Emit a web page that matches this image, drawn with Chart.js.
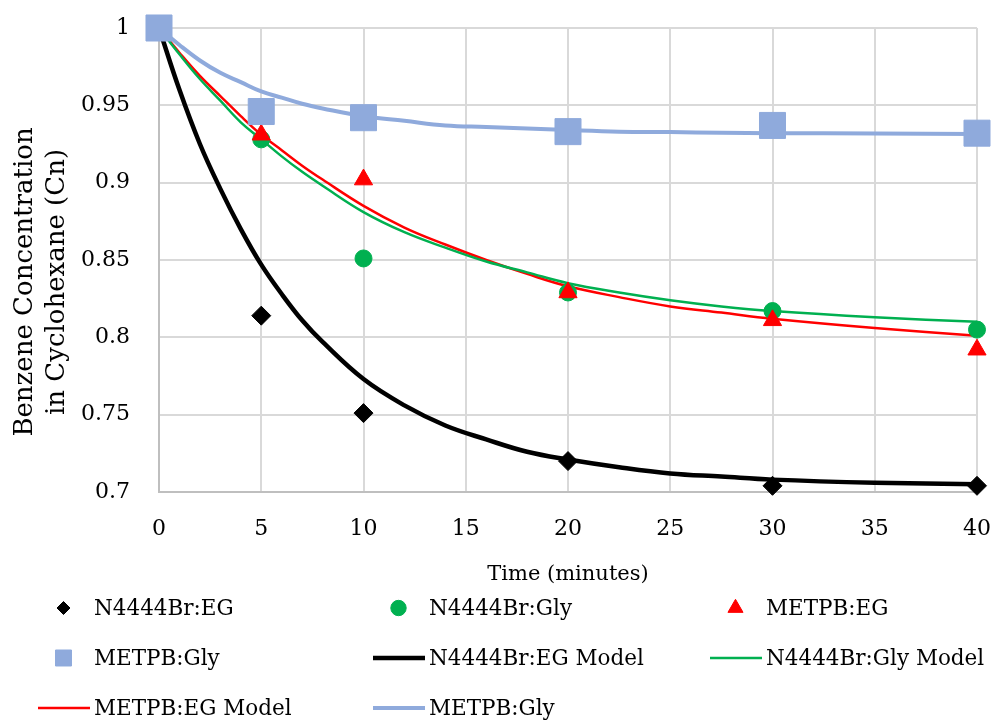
<!DOCTYPE html>
<html>
<head>
<meta charset="utf-8">
<script src="https://cdn.jsdelivr.net/npm/chart.js"></script>
<style>
  html, body { margin: 0; padding: 0; background: #fff; }
  #wrap { width: 992px; height: 720px; position: relative; }
</style>
</head>
<body>
<div id="wrap"><canvas id="benzene-chart"></canvas></div>
<script>
// measured points (minutes vs Cn)
const sampleTimes = [0, 5, 10, 20, 30, 40];
const n4444EG  = [1, 0.814, 0.751, 0.720, 0.704, 0.704];
const n4444Gly = [1, 0.928, 0.851, 0.829, 0.817, 0.805];
const metpbEG  = [1, 0.931, 0.902, 0.829, 0.811, 0.792];
const metpbGly = [1, 0.946, 0.942, 0.933, 0.937, 0.932];

// model curves
const modelTimes = [0, 1, 2, 3, 4, 5, 6, 7, 8, 10, 12, 14, 16, 18, 20, 22.5, 25, 27.5, 30, 35, 40];
const n4444EGModel  = [1, 0.960, 0.925, 0.896, 0.870, 0.847, 0.828, 0.811, 0.797, 0.773, 0.756, 0.743, 0.734, 0.726, 0.721, 0.716, 0.712, 0.710, 0.708, 0.706, 0.705];
const n4444GlyModel = [1, 0.983, 0.967, 0.953, 0.939, 0.928, 0.917, 0.907, 0.898, 0.881, 0.868, 0.858, 0.849, 0.842, 0.835, 0.829, 0.824, 0.820, 0.817, 0.813, 0.810];
const metpbEGModel  = [1, 0.984, 0.969, 0.956, 0.943, 0.931, 0.921, 0.911, 0.902, 0.885, 0.871, 0.860, 0.850, 0.841, 0.833, 0.826, 0.820, 0.816, 0.812, 0.806, 0.801];
const metpbGlyModel = [1, 0.989, 0.979, 0.971, 0.965, 0.959, 0.955, 0.951, 0.948, 0.943, 0.940, 0.937, 0.936, 0.935, 0.934, 0.933, 0.9327, 0.9323, 0.932, 0.9318, 0.9315];

const xTicks = [0, 5, 10, 15, 20, 25, 30, 35, 40];
const yTitle = ["Benzene Concentration", "in Cyclohexane (Cn)"];
const xTitle = "Time (minutes)";

const SERIF = "'DejaVu Serif', 'Liberation Serif', serif";

function pts(xs, ys) {
    return xs.map((x, i) => ({ x: x, y: ys[i] }));
}

function markerSet(label, ys, style, color, radius, order, legendRadius) {
    return {
        label: label,
        data: pts(sampleTimes, ys),
        showLine: false,
        pointStyle: style,
        pointRadius: radius,
        pointHoverRadius: radius,
        backgroundColor: color,
        borderColor: color,
        pointBorderWidth: 1,
        order: order,
        clip: false,
        legendRadius: legendRadius
    };
}

function modelSet(label, ys, color, width) {
    return {
        label: label,
        data: pts(modelTimes, ys),
        showLine: true,
        pointRadius: 0,
        pointHoverRadius: 0,
        borderColor: color,
        backgroundColor: color,
        borderWidth: width,
        tension: 0.4,
        borderJoinStyle: "round",
        order: 10,
        clip: false
    };
}

const datasets = [
    markerSet("N4444Br:EG", n4444EG, "rectRot", "#000000", 9.5, 4, 6.5),
    markerSet("N4444Br:Gly", n4444Gly, "circle", "#00B050", 8.5, 3, 7.7),
    markerSet("METPB:EG", metpbEG, "triangle", "#FF0000", 10.5, 2, 8.7),
    markerSet("METPB:Gly", metpbGly, "rect", "#8FAADC", 18.4, 1, 11.3),
    modelSet("N4444Br:EG Model", n4444EGModel, "#000000", 4.5),
    modelSet("N4444Br:Gly Model", n4444GlyModel, "#00B050", 2.5),
    modelSet("METPB:EG Model", metpbEGModel, "#FF0000", 2.5),
    modelSet("METPB:Gly", metpbGlyModel, "#8FAADC", 4)
];

// legend grid + rotated y title drawn on the canvas
const legendCols = [94, 429, 766];
const legendRows = [608, 658, 708];

const extrasPlugin = {
    id: "extras",
    afterDraw(chart) {
        const ctx = chart.ctx;
        ctx.save();
        // y axis title (two lines)
        ctx.fillStyle = "#000";
        ctx.font = "26px " + SERIF;
        ctx.textAlign = "center";
        ctx.textBaseline = "middle";
        ctx.translate(0, 282);
        ctx.rotate(-Math.PI / 2);
        ctx.fillText(yTitle[0], 0, 25);
        ctx.fillText(yTitle[1], 0, 57);
        ctx.restore();

        ctx.save();
        ctx.font = "21.5px " + SERIF;
        ctx.textBaseline = "middle";
        ctx.textAlign = "left";
        chart.data.datasets.forEach((ds, i) => {
            const tx = legendCols[i % 3];
            const ty = legendRows[Math.floor(i / 3)];
            if (ds.showLine) {
                ctx.strokeStyle = ds.borderColor;
                ctx.lineWidth = ds.borderWidth;
                ctx.beginPath();
                ctx.moveTo(tx - 56, ty);
                ctx.lineTo(tx - 4, ty);
                ctx.stroke();
            } else {
                ctx.fillStyle = ds.backgroundColor;
                ctx.strokeStyle = ds.borderColor;
                Chart.helpers.drawPoint(ctx, {
                    pointStyle: ds.pointStyle,
                    radius: ds.legendRadius,
                    borderWidth: 1,
                    rotation: 0
                }, tx - 30.5, ty);
            }
            ctx.fillStyle = "#000";
            ctx.fillText(ds.label, tx, ty + 1);
        });
        ctx.restore();
    }
};

new Chart("benzene-chart", {
    type: "scatter",
    data: { datasets: datasets },
    options: {
        responsive: true,
        maintainAspectRatio: false,
        animation: false,
        layout: { autoPadding: false, padding: { left: 0, right: 15, top: 28, bottom: 128 } },
        plugins: {
            legend: { display: false },
            tooltip: { enabled: false }
        },
        scales: {
            x: {
                type: "linear",
                min: 0,
                max: 40,
                afterBuildTicks: (scale) => { scale.ticks = xTicks.map(v => ({ value: v })); },
                afterFit: (scale) => {
                    scale.height = 100;
                    scale.paddingLeft = 0;
                    scale.paddingRight = 0;
                },
                grid: { color: "#D9D9D9", lineWidth: 2, drawTicks: false },
                border: { color: "#BFBFBF", width: 2 },
                ticks: {
                    color: "#000",
                    padding: 24,
                    font: { family: SERIF, size: 22 },
                    maxRotation: 0
                },
                title: {
                    display: true,
                    text: xTitle,
                    color: "#000",
                    font: { family: SERIF, size: 21 },
                    padding: { top: 0, bottom: 5 }
                }
            },
            y: {
                min: 0.7,
                max: 1,
                afterFit: (scale) => {
                    scale.width = 159;
                    scale.paddingTop = 0;
                    scale.paddingBottom = 0;
                },
                grid: { color: "#D9D9D9", lineWidth: 2, drawTicks: false },
                border: { color: "#BFBFBF", width: 2 },
                ticks: {
                    stepSize: 0.05,
                    color: "#000",
                    padding: 29,
                    font: { family: SERIF, size: 22 },
                    callback: (v) => String(+v.toFixed(2))
                }
            }
        }
    },
    plugins: [extrasPlugin]
});
</script>
</body>
</html>
